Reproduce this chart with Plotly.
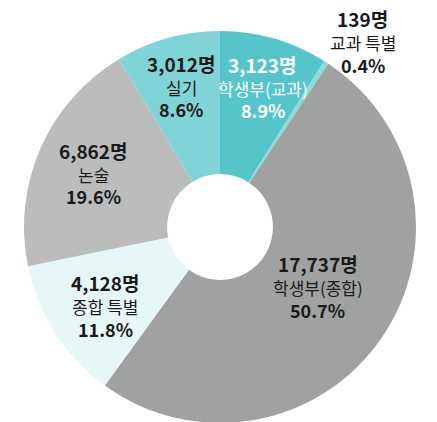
import math
import plotly.graph_objects as go

# ---- data ----
categories = ["학생부(교과)", "교과 특별", "학생부(종합)", "종합 특별", "논술", "실기"]
counts = [3123, 139, 17737, 4128, 6862, 3012]
percent_labels = ["8.9%", "0.4%", "50.7%", "11.8%", "19.6%", "8.6%"]

# ---- style ----
colors = ["#56C5CB", "#8FD9DC", "#A0A1A1", "#E6F7F8", "#BBBCBC", "#80D4D7"]
text_colors = ["#FFFFFF", "#1A1A1A", "#1A1A1A", "#1A1A1A", "#1A1A1A", "#1A1A1A"]
label_radius = [145, 233, 115, 140, 137, 145]   # px from centre
label_dtheta = [1, 5, -3, -2, -1, 0]            # deg adjust

W, H = 437, 422
OFF = 8  # page body margin
dom_x = [(24 - OFF) / W, (416 - OFF) / W]
dom_y = [(H - (423 - OFF)) / H, (H - (31 - OFF)) / H]
hole = 0.27
FONT = "Noto Sans CJK KR"

fig = go.Figure(go.Pie(
    labels=categories,
    values=counts,
    sort=False,
    direction="clockwise",
    rotation=0,
    hole=hole,
    marker=dict(colors=colors, line=dict(width=0)),
    textinfo="none",
    hoverinfo="skip",
    showlegend=False,
    domain=dict(x=dom_x, y=dom_y),
))

cx = (dom_x[0] + dom_x[1]) / 2 * W
cy = (1 - (dom_y[0] + dom_y[1]) / 2) * H
total = sum(counts)
cum = 0.0
for i, v in enumerate(counts):
    mid = (cum + v / 2) / total * 360 + label_dtheta[i]
    cum += v
    r = label_radius[i]
    px = cx + r * math.sin(math.radians(mid))
    py = cy - r * math.cos(math.radians(mid))
    xp, yp = px / W, 1 - py / H
    lines = [
        (f"<b>{v:,}명</b>", 19, -24),
        (categories[i], 17, 0),
        (f"<b>{percent_labels[i]}</b>", 18, 22),
    ]
    for txt, size, off in lines:
        fig.add_annotation(
            x=xp, y=yp, xref="paper", yref="paper",
            text=txt, showarrow=False,
            xanchor="center", yanchor="middle",
            yshift=-off,
            font=dict(family=FONT, size=size, color=text_colors[i]),
        )

fig.update_layout(
    width=W, height=H,
    margin=dict(l=0, r=0, t=0, b=0),
    paper_bgcolor="white",
    plot_bgcolor="white",
)
fig.write_html("out.html")
